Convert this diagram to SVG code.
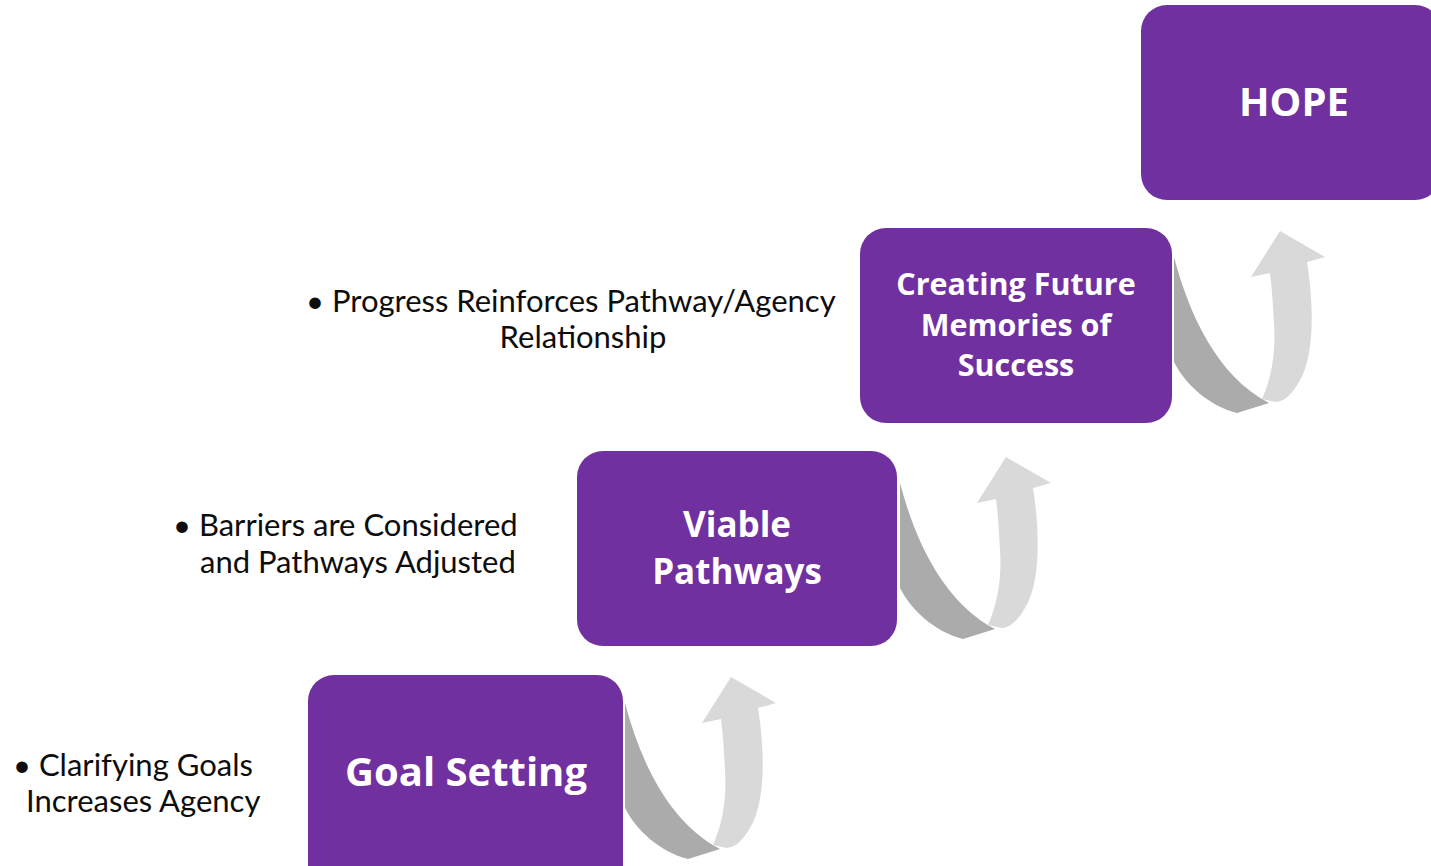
<svg xmlns="http://www.w3.org/2000/svg" width="1431" height="866" viewBox="0 0 1431 866">
<defs>
<style>
.box{fill:#7030A0;}
.bt{fill:#FFFFFF;font-family:"Open Sans","Liberation Sans",sans-serif;font-weight:bold;text-anchor:middle;}
.lt{fill:#0d0d0d;font-family:"Lato","Open Sans","Liberation Sans",sans-serif;font-weight:normal;font-size:31px;}
.dk{fill:#ABABAB;}
.lg{fill:#D9D9D9;}
</style>
<g id="curl">
<path class="dk" d="M625,703 C640,760 668,822 720,849 L688,859 C660,852 636,830 625,808 Z"/>
<path class="lg" d="M713,845 C722,825 727,800 725,770 C724,750 723,735 721,719 L702,723 L731,677 L776,703 L758,708 C764,745 767,800 750,828 C743,840 736,847 727,848 Z"/>
</g>
</defs>
<rect width="1431" height="866" fill="#FFFFFF"/>
<g id="connectors">
<use href="#curl"/>
<use href="#curl" transform="translate(275,-220)"/>
<use href="#curl" transform="translate(549,-446)"/>
</g>
<g id="goal-setting">
<rect class="box" x="308" y="675" width="315" height="220" rx="26"/>
<text class="bt" x="466" y="786" font-size="40">Goal Setting</text>
</g>
<g id="viable-pathways">
<rect class="box" x="577" y="451" width="320" height="195" rx="26"/>
<text class="bt" x="737" y="537" font-size="35">Viable</text>
<text class="bt" x="737" y="584" font-size="35">Pathways</text>
</g>
<g id="creating-future">
<rect class="box" x="860" y="228" width="312" height="195" rx="26"/>
<text class="bt" x="1016" y="295" font-size="30.5">Creating Future</text>
<text class="bt" x="1016" y="336" font-size="30.5">Memories of</text>
<text class="bt" x="1016" y="376" font-size="30.5">Success</text>
</g>
<g id="hope">
<rect class="box" x="1141" y="5" width="300" height="195" rx="26"/>
<text class="bt" x="1294" y="116" font-size="40">HOPE</text>
</g>
<g id="note-progress">
<text class="lt" x="306" y="312">• Progress Reinforces Pathway/Agency</text>
<text class="lt" x="583" y="348" text-anchor="middle">Relationship</text>
</g>
<g id="note-barriers">
<text class="lt" x="173" y="536">• Barriers are Considered</text>
<text class="lt" x="200" y="573">and Pathways Adjusted</text>
</g>
<g id="note-clarifying">
<text class="lt" x="13" y="776">• Clarifying Goals</text>
<text class="lt" x="26" y="812">Increases Agency</text>
</g>
</svg>
